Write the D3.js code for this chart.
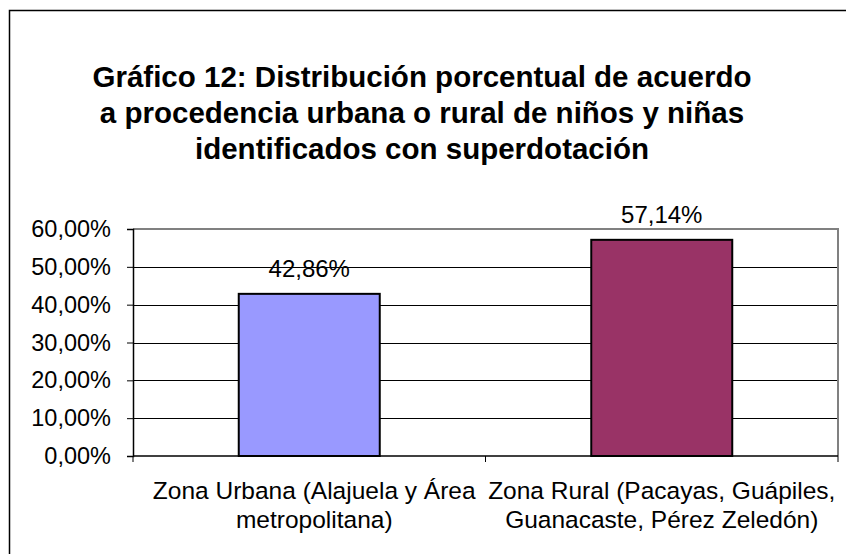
<!DOCTYPE html>
<html>
<head>
<meta charset="utf-8">
<script src="https://cdn.jsdelivr.net/npm/d3@7"></script>
<style>
  body { margin: 0; background: #fff; }
  text { font-family: Arial, "Liberation Sans", sans-serif; fill: #000; }
</style>
</head>
<body>
<div id="chart"></div>
<script>
var titleLines = [
  "Gráfico 12: Distribución porcentual de acuerdo",
  "a procedencia urbana o rural de niños y niñas",
  "identificados con superdotación"
];
var categories = [
  ["Zona Urbana (Alajuela y Área", "metropolitana)"],
  ["Zona Rural (Pacayas, Guápiles,", "Guanacaste, Pérez Zeledón)"]
];
var values = [0.4286, 0.5714];
var barColors = ["#9999FF", "#993366"];
var yTicks = [0, 0.1, 0.2, 0.3, 0.4, 0.5, 0.6];

var svgWidth = 846;
var svgHeight = 554;
var margin = { top: 229, right: 8, bottom: 98, left: 133 };
var width = svgWidth - margin.left - margin.right;
var height = svgHeight - margin.top - margin.bottom;

var svg = d3.select("#chart")
  .append("svg")
  .attr("width", svgWidth)
  .attr("height", svgHeight);

// outer frame (runs off the right and bottom edges)
svg.append("rect")
  .attr("x", 9.5).attr("y", 10.5)
  .attr("width", 900).attr("height", 900)
  .attr("fill", "none")
  .attr("stroke", "#000")
  .attr("stroke-width", 1.5);

svg.append("text")
  .attr("text-anchor", "middle")
  .style("font-weight", "bold")
  .style("font-size", "29.5px")
  .selectAll("tspan")
  .data(titleLines)
  .enter()
  .append("tspan")
  .attr("x", 422)
  .attr("y", (d, i) => 87 + i * 36)
  .text(d => d);

var chartGroup = svg.append("g")
  .attr("transform", `translate(${margin.left}, ${margin.top})`);

var x = d3.scaleBand()
  .domain(d3.range(values.length))
  .range([0, width])
  .padding(0);

var y = d3.scaleLinear()
  .domain([0, 0.6])
  .range([height, 0]);

var pctFormat = d => d3.format(".2f")(d * 100).replace(".", ",") + "%";

// gridlines
chartGroup.selectAll(".grid")
  .data(yTicks.slice(1, -1))
  .enter()
  .append("line")
  .attr("x1", 0).attr("x2", width)
  .attr("y1", d => Math.round(y(d)) + 0.5)
  .attr("y2", d => Math.round(y(d)) + 0.5)
  .attr("stroke", "#000")
  .attr("stroke-width", 1);

// plot area border (top + right, gray)
chartGroup.append("path")
  .attr("d", `M0,${y(0.6)}H${width}V${height}`)
  .attr("fill", "none")
  .attr("stroke", "#808080")
  .attr("stroke-width", 2);

var barW = x.bandwidth() * 0.4;

chartGroup.selectAll(".bar")
  .data(values)
  .enter()
  .append("rect")
  .attr("x", (d, i) => x(i) + (x.bandwidth() - barW) / 2)
  .attr("y", d => y(d))
  .attr("width", barW)
  .attr("height", d => height - y(d))
  .attr("fill", (d, i) => barColors[i])
  .attr("stroke", "#000")
  .attr("stroke-width", 2);

chartGroup.selectAll(".val")
  .data(values)
  .enter()
  .append("text")
  .attr("x", (d, i) => x(i) + x.bandwidth() / 2)
  .attr("y", d => y(d) - 17)
  .attr("text-anchor", "middle")
  .style("font-size", "24px")
  .text(d => pctFormat(d));

// y axis
var yAxis = chartGroup.append("g")
  .call(d3.axisLeft(y).tickValues(yTicks).tickSize(6).tickPadding(16).tickFormat(pctFormat));
yAxis.select(".domain").attr("stroke", "#000").attr("stroke-width", 1.5);
yAxis.selectAll(".tick line").attr("stroke", "#000");
yAxis.selectAll("text").style("font-size", "23.5px").attr("font-family", null);

// x axis with ticks at category boundaries
var xEdges = d3.range(values.length + 1).map(i => i * x.step());
var xAxis = chartGroup.append("g")
  .attr("transform", `translate(0, ${height})`);
xAxis.append("line")
  .attr("x1", 0).attr("x2", width)
  .attr("y1", 0).attr("y2", 0)
  .attr("stroke", "#000").attr("stroke-width", 1.5);
xAxis.selectAll(".edge")
  .data(xEdges)
  .enter()
  .append("line")
  .attr("x1", d => d).attr("x2", d => d)
  .attr("y1", 0).attr("y2", 6)
  .attr("stroke", "#000");

xAxis.selectAll(".cat")
  .data(categories)
  .enter()
  .append("text")
  .attr("text-anchor", "middle")
  .style("font-size", "24.5px")
  .each(function (d, i) {
    d3.select(this).selectAll("tspan")
      .data(d)
      .enter()
      .append("tspan")
      .attr("x", x(i) + x.bandwidth() / 2 + (i === 0 ? 5 : 0))
      .attr("y", (t, j) => 43 + j * 29)
      .text(t => t);
  });
</script>
</body>
</html>
